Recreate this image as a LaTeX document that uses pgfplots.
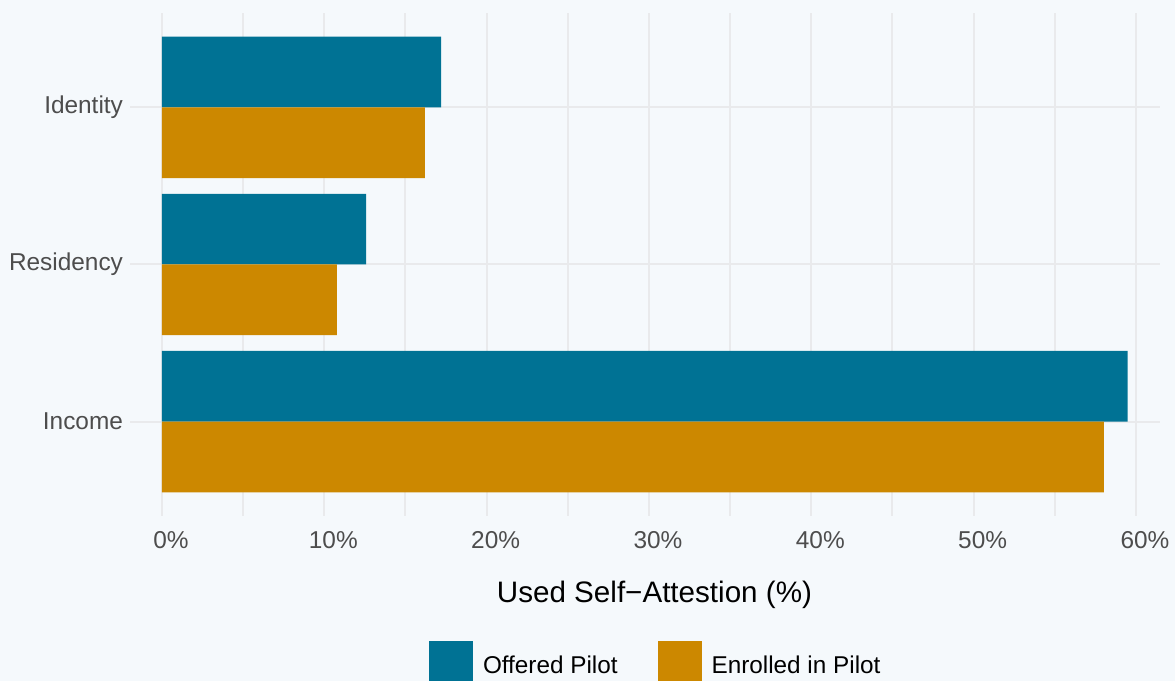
\documentclass[border=0pt]{standalone}
\usepackage{fontspec}
\setmainfont{Liberation Sans}
\usepackage{pgfplots}
\pgfplotsset{compat=1.18}
\definecolor{bg}{RGB}{245,249,252}
\definecolor{offered}{RGB}{0,114,148}
\definecolor{enrolled}{RGB}{204,136,0}
\definecolor{gridc}{RGB}{233,234,236}
\definecolor{ticktext}{RGB}{77,77,77}
\begin{document}
\begin{tikzpicture}[x=1pt,y=1pt]
\fill[bg] (0,0) rectangle (587.5,340.5);
\useasboundingbox (0,0) rectangle (587.5,340.5);
\begin{axis}[
  at={(65pt,82.5pt)}, anchor=south west,
  scale only axis, width=515pt, height=251.5pt,
  xmin=-1.971, xmax=61.48, ymin=0.4, ymax=3.6,
  axis line style={draw=none},
  major tick style={draw=none}, minor tick style={draw=none},
  xtick={0,10,20,30,40,50,60},
  minor xtick={5,15,25,35,45,55},
  xticklabel={\pgfmathprintnumber[assume math mode=true]{\tick}\%},
  ytick={1,2,3}, yticklabels={Income,Residency,Identity},
  xmajorgrids, xminorgrids, ymajorgrids,
  major grid style={gridc, line width=1pt},
  minor grid style={gridc, line width=1pt},
  xticklabel style={font=\fontsize{12.2}{14}\selectfont, text=ticktext, yshift=-4pt, xshift=4.5pt},
  yticklabel style={font=\fontsize{12.2}{14}\selectfont, text=ticktext},
  xlabel={Used Self\char"2212 Attestion (\%)},
  xlabel style={at={(rel axis cs:0.5092,0)}, anchor=base, yshift=-43.5pt, font=\fontsize{14.8}{17}\selectfont},
  legend columns=2,
  legend cell align=left,
  legend style={at={(rel axis cs:0.2903,-0.2485)}, anchor=north west, draw=none, fill=none,
    inner sep=0pt, outer sep=0pt, font=\fontsize{12.15}{14}\selectfont,
    nodes={inner sep=0pt},
    /tikz/every odd column/.append style={column sep=5pt},
    /tikz/every even column/.append style={column sep=20pt}},
  legend image code/.code={\fill[#1,draw=none] (0pt,-9.5pt) rectangle (22pt,12.5pt);},
]
\addplot[xbar, bar width=0.45, bar shift=0.225, fill=offered, draw=none]
  coordinates {(59.48,1) (12.57,2) (17.19,3)};
\addlegendentry{Offered Pilot}
\addplot[xbar, bar width=0.45, bar shift=-0.225, fill=enrolled, draw=none]
  coordinates {(58.03,1) (10.78,2) (16.20,3)};
\addlegendentry{Enrolled in Pilot}
\end{axis}
\end{tikzpicture}
\end{document}
